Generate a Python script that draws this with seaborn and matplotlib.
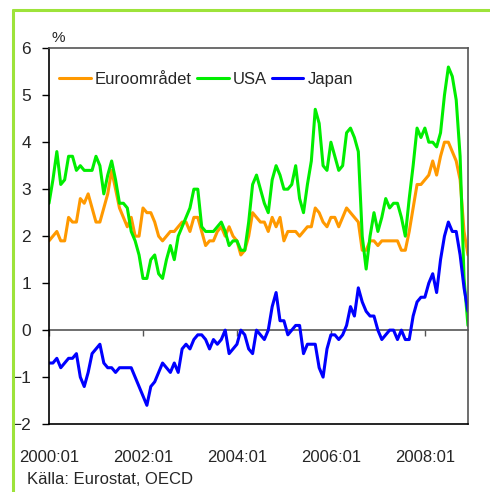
import numpy as np
import pandas as pd
import seaborn as sns
import matplotlib.pyplot as plt
from matplotlib.lines import Line2D

# monthly inflation, 2000:01 - 2008:12 (%)
euro = [1.9, 2.0, 2.1, 1.9, 1.9, 2.4, 2.3, 2.3, 2.8, 2.7, 2.9, 2.6,
        2.3, 2.3, 2.6, 2.9, 3.4, 3.0, 2.6, 2.4, 2.2, 2.4, 2.0, 2.0,
        2.6, 2.5, 2.5, 2.3, 2.0, 1.9, 2.0, 2.1, 2.1, 2.2, 2.3, 2.3,
        2.1, 2.4, 2.4, 2.1, 1.8, 1.9, 1.9, 2.1, 2.2, 2.0, 2.2, 2.0,
        1.9, 1.6, 1.7, 2.0, 2.5, 2.4, 2.3, 2.3, 2.1, 2.4, 2.2, 2.4,
        1.9, 2.1, 2.1, 2.1, 2.0, 2.1, 2.2, 2.2, 2.6, 2.5, 2.3, 2.2,
        2.4, 2.4, 2.2, 2.4, 2.6, 2.5, 2.4, 2.3, 1.7, 1.7, 1.9, 1.9,
        1.8, 1.9, 1.9, 1.9, 1.9, 1.9, 1.7, 1.7, 2.1, 2.6, 3.1, 3.1,
        3.2, 3.3, 3.6, 3.3, 3.7, 4.0, 4.0, 3.8, 3.6, 3.2, 2.1, 1.6]
usa = [2.7, 3.2, 3.8, 3.1, 3.2, 3.7, 3.7, 3.4, 3.5, 3.4, 3.4, 3.4,
       3.7, 3.5, 2.9, 3.3, 3.6, 3.2, 2.7, 2.7, 2.6, 2.1, 1.9, 1.6,
       1.1, 1.1, 1.5, 1.6, 1.2, 1.1, 1.5, 1.8, 1.5, 2.0, 2.2, 2.4,
       2.6, 3.0, 3.0, 2.2, 2.1, 2.1, 2.1, 2.2, 2.3, 2.1, 1.8, 1.9,
       1.9, 1.7, 1.7, 2.3, 3.1, 3.3, 3.0, 2.7, 2.5, 3.2, 3.5, 3.3,
       3.0, 3.0, 3.1, 3.5, 2.8, 2.5, 3.1, 3.6, 4.7, 4.4, 3.5, 3.4,
       4.0, 3.7, 3.4, 3.5, 4.2, 4.3, 4.1, 3.8, 2.0, 1.3, 2.0, 2.5,
       2.1, 2.4, 2.8, 2.6, 2.7, 2.7, 2.4, 2.0, 2.8, 3.5, 4.3, 4.1,
       4.3, 4.0, 4.0, 3.9, 4.2, 5.0, 5.6, 5.4, 4.9, 3.7, 1.1, 0.1]
japan = [-0.7, -0.7, -0.6, -0.8, -0.7, -0.6, -0.6, -0.5, -1.0, -1.2, -0.9, -0.5,
         -0.4, -0.3, -0.7, -0.8, -0.8, -0.9, -0.8, -0.8, -0.8, -0.8, -1.0, -1.2,
         -1.4, -1.6, -1.2, -1.1, -0.9, -0.7, -0.8, -0.9, -0.7, -0.9, -0.4, -0.3,
         -0.4, -0.2, -0.1, -0.1, -0.2, -0.4, -0.2, -0.3, -0.2, 0.0, -0.5, -0.4,
         -0.3, 0.0, -0.1, -0.4, -0.5, 0.0, -0.1, -0.2, 0.0, 0.5, 0.8, 0.2,
         0.2, -0.1, 0.0, 0.1, 0.1, -0.5, -0.3, -0.3, -0.3, -0.8, -1.0, -0.4,
         -0.1, -0.1, -0.2, -0.1, 0.1, 0.5, 0.3, 0.9, 0.6, 0.4, 0.3, 0.3,
         0.0, -0.2, -0.1, 0.0, 0.0, -0.2, 0.0, -0.2, -0.2, 0.3, 0.6, 0.7,
         0.7, 1.0, 1.2, 0.8, 1.5, 2.0, 2.3, 2.1, 2.1, 1.6, 0.9, 0.4]

series_names = ['Euroområdet', 'USA', 'Japan']
colors = ['#ff9900', '#00ee00', '#0000ff']
tick_labels = ['2000:01', '2002:01', '2004:01', '2006:01', '2008:01']
tick_months = [0, 24, 48, 72, 96]

months = np.arange(len(euro))
df = pd.DataFrame({
    'month': np.tile(months, 3),
    'value': euro + usa + japan,
    'serie': np.repeat(series_names, len(months)),
})

sns.set_style('white')
plt.rcParams['font.family'] = ['Liberation Sans', 'DejaVu Sans']

fig = plt.figure(figsize=(4.9, 4.92), dpi=100)
ax = fig.add_axes([0.1, 0.138, 0.855, 0.764])

sns.lineplot(data=df, x='month', y='value', hue='serie', hue_order=series_names,
             palette=colors, linewidth=2.2, ax=ax)

ax.set_xlim(0, len(months) - 1)
ax.set_ylim(-2, 6)
ax.set_yticks(range(-2, 7))
ax.set_xticks(tick_months)
ax.set_xticklabels(tick_labels)
ax.set_xlabel('')
ax.set_ylabel('')
ax.tick_params(axis='x', length=0, pad=19, labelsize=12)
ax.tick_params(axis='y', length=5, width=1, direction='out', pad=8, labelsize=12.5, left=True, color='black')

for side in ['left', 'bottom']:
    ax.spines[side].set_color('black')
    ax.spines[side].set_linewidth(1.2)
for side in ['top', 'right']:
    ax.spines[side].set_color('#555555')
    ax.spines[side].set_linewidth(1.2)

# zero line with tick marks
zero = ax.secondary_xaxis(0.25)
zero.set_xticks(tick_months)
zero.tick_params(axis='x', length=4, width=1, direction='out', labelbottom=False, color='#555555')
zero.spines['bottom'].set_color('#555555')
zero.spines['bottom'].set_linewidth(1.2)

ax.legend(loc='center left', bbox_to_anchor=(0.0, 0.918), ncol=3, frameon=False,
          fontsize=12, handlelength=1.9, handletextpad=0.25, columnspacing=0.3,
          borderpad=0, borderaxespad=0.6)

fig.text(0.106, 0.915, '%', fontsize=11, ha='left', va='baseline')
fig.text(0.055, 0.016, 'Källa: Eurostat, OECD', fontsize=12, ha='left', va='baseline')

# green frame
frame_col = '#9de33a'
fig.add_artist(Line2D([0.0265, 0.0265], [0.0, 0.9797], color=frame_col, lw=2.2, transform=fig.transFigure))
fig.add_artist(Line2D([0.0265, 1.0], [0.9797, 0.9797], color=frame_col, lw=2.2, transform=fig.transFigure))

fig.savefig('out.png', dpi=100)
